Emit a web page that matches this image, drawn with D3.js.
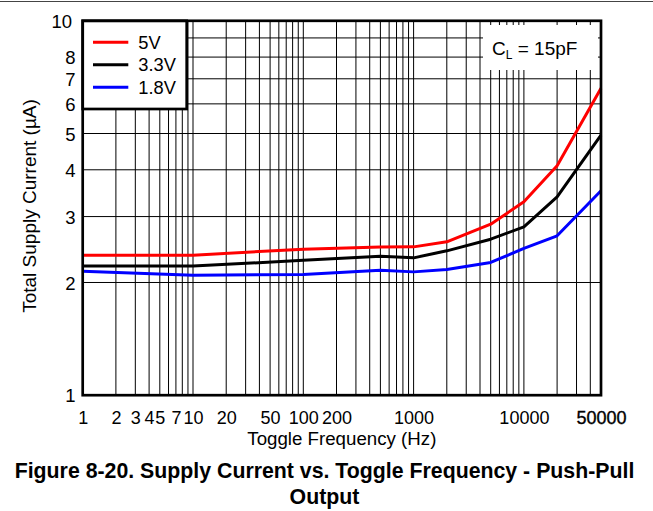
<!DOCTYPE html>
<html>
<head>
<meta charset="utf-8">
<script src="https://cdn.jsdelivr.net/npm/d3@7/dist/d3.min.js"></script>
<style>
  html, body { margin: 0; padding: 0; background: #fff; }
  svg { display: block; font-family: "Liberation Sans", Arial, sans-serif; }
</style>
</head>
<body>
<svg id="chart" width="653" height="511"></svg>
<script>
// ---- Data ----
const frequencies = [1, 10, 100, 500, 1000, 2000, 5000, 10000, 20000, 50000];
const current5V   = [2.366, 2.366, 2.455, 2.486, 2.49, 2.568, 2.863, 3.284, 4.10, 6.60];
const current3V3  = [2.212, 2.212, 2.293, 2.351, 2.327, 2.43, 2.61, 2.817, 3.386, 4.95];
const current1V8  = [2.144, 2.092, 2.10, 2.158, 2.135, 2.167, 2.262, 2.466, 2.665, 3.515];
const seriesNames = ["5V", "3.3V", "1.8V"];
const seriesColors = ["#ff0000", "#000000", "#0000ff"];
const xTickValues = [1, 2, 3, 4, 5, 7, 10, 20, 50, 100, 200, 1000, 10000, 50000];
const yTickValues = [1, 2, 3, 4, 5, 6, 7, 8, 10];
const xTitle = "Toggle Frequency (Hz)";
const yTitle = "Total Supply Current (\u00B5A)";
const captionLines = ["Figure 8-20. Supply Current vs. Toggle Frequency - Push-Pull", "Output"];

(function () {
// ---- Layout ----
const svg = d3.select("#chart");
const pL = 82.7, pR = 601, pT = 20.8, pB = 395.2;

const x = d3.scaleLog().domain([1, 50000]).range([pL, pR]);
const y = d3.scaleLog().domain([1, 10]).range([pB, pT]);

// page top rule
svg.append("line").attr("x1", 0).attr("x2", 653).attr("y1", 1.5).attr("y2", 1.5)
  .attr("stroke", "#444").attr("stroke-width", 1);

// grid values
const gridX = [];
for (let d = 1; d <= 10000; d *= 10) for (let m = 1; m <= 9; m++) { const v = d * m; if (v > 1 && v < 50000) gridX.push(v); }
const gridY = [2, 3, 4, 5, 6, 7, 8, 9];

const grid = svg.append("g");
grid.selectAll("line.gx").data(gridX).join("line").attr("class", "gx")
  .attr("x1", d => x(d)).attr("x2", d => x(d)).attr("y1", pT).attr("y2", pB)
  .attr("stroke", "#000").attr("stroke-width", 1);
grid.selectAll("line.gy").data(gridY).join("line").attr("class", "gy")
  .attr("x1", pL).attr("x2", pR).attr("y1", d => y(d)).attr("y2", d => y(d))
  .attr("stroke", "#000").attr("stroke-width", 1);

// series lines
const seriesData = [current5V, current3V3, current1V8];
const line = d3.line().x(d => x(d[0])).y(d => y(d[1]));
seriesData.forEach((vals, i) => {
  svg.append("path")
    .datum(frequencies.map((f, j) => [f, vals[j]]))
    .attr("d", line)
    .attr("fill", "none")
    .attr("stroke", seriesColors[i])
    .attr("stroke-width", 3)
    .attr("stroke-linejoin", "round");
});

// C_L annotation box
svg.append("rect").attr("x", 483).attr("y", 25).attr("width", 115).attr("height", 45).attr("fill", "#fff");
const cl = svg.append("text").attr("x", 492).attr("y", 54.7).attr("font-size", 19).attr("fill", "#000");
cl.append("tspan").text("C");
cl.append("tspan").attr("dy", 4.6).attr("font-size", 12).text("L");
cl.append("tspan").attr("dy", -4.6).text(" = 15pF");

// legend box
svg.append("rect").attr("x", pL).attr("y", pT).attr("width", 186.7 - pL).attr("height", 109 - pT)
  .attr("fill", "#fff").attr("stroke", "#000").attr("stroke-width", 2.7);
seriesNames.forEach((name, i) => {
  const ly = 42.3 + i * 22.5;
  svg.append("line").attr("x1", 93).attr("x2", 128.3).attr("y1", ly).attr("y2", ly)
    .attr("stroke", seriesColors[i]).attr("stroke-width", 3);
  svg.append("text").attr("x", 138.3).attr("y", ly + 6.4).attr("font-size", 18.3).attr("fill", "#000").text(name);
});

// frame
svg.append("rect").attr("x", pL).attr("y", pT).attr("width", pR - pL).attr("height", pB - pT)
  .attr("fill", "none").attr("stroke", "#000").attr("stroke-width", 2.7);

// x axis labels
const xAxis = d3.axisBottom(x).tickValues(xTickValues).tickFormat(d3.format("d")).tickSize(0).tickPadding(0);
const gx = svg.append("g").attr("transform", `translate(0,${pB})`).call(xAxis);
gx.select(".domain").remove();
gx.selectAll("text").attr("y", 29).attr("dy", null).attr("font-size", 18)
  .attr("font-family", "Liberation Sans, Arial, sans-serif").attr("fill", "#000")
  .each(function(d) { if (d === 50000) d3.select(this).attr("stroke", "#000").attr("stroke-width", 0.35); });

// y axis labels
const yAxis = d3.axisLeft(y).tickValues(yTickValues).tickFormat(d3.format("d")).tickSize(0).tickPadding(0);
const gy = svg.append("g").attr("transform", `translate(75.5,0)`).call(yAxis);
gy.select(".domain").remove();
gy.selectAll("text").attr("x", d => d === 10 ? -3.5 : 0).attr("dy", "0.36em").attr("font-size", 18.5)
  .attr("font-family", "Liberation Sans, Arial, sans-serif").attr("fill", "#000");

// axis titles
svg.append("text").attr("x", (pL + pR) / 2).attr("y", 445).attr("text-anchor", "middle")
  .attr("font-size", 18.7).attr("fill", "#000").text(xTitle);
svg.append("text").attr("transform", "translate(35.5,206) rotate(-90)").attr("text-anchor", "middle")
  .attr("font-size", 19).attr("fill", "#000").text(yTitle);

// caption
captionLines.forEach((t, i) => {
  svg.append("text").attr("x", 324.5).attr("y", 478 + i * 26).attr("text-anchor", "middle")
    .attr("font-size", 21.3).attr("font-weight", "bold").attr("fill", "#000").text(t);
});
})();
</script>
</body>
</html>
